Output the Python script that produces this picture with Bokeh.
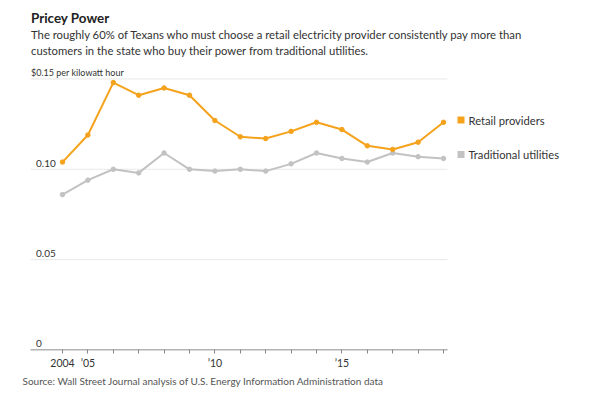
from bokeh.plotting import figure
from bokeh.models import Range1d, FixedTicker, Title, ColumnDataSource
from bokeh.core.properties import value
from bokeh.embed import file_html
from bokeh.resources import INLINE

# ---- data ----
years = list(range(2004, 2020))
retail = [0.104, 0.119, 0.148, 0.141, 0.145, 0.141, 0.127, 0.118, 0.117,
          0.121, 0.126, 0.122, 0.113, 0.111, 0.115, 0.126]
traditional = [0.086, 0.094, 0.100, 0.098, 0.109, 0.100, 0.099, 0.100, 0.099,
               0.103, 0.109, 0.106, 0.104, 0.109, 0.107, 0.106]
y_ticks = [0.0, 0.05, 0.10]
y_tick_labels = ["0", "0.05", "0.10"]
y_top_tick = 0.15
y_top_label = "$0.15 per kilowatt hour"
x_ticks = years
x_tick_labels = {2004: "2004", 2005: "\u201905", 2010: "\u201910", 2015: "\u201915"}
series_names = ["Retail providers", "Traditional utilities"]
title = "Pricey Power"
subtitle = ["The roughly 60% of Texans who must choose a retail electricity provider consistently pay more than",
            "customers in the state who buy their power from traditional utilities."]
source_note = "Source: Wall Street Journal analysis of U.S. Energy Information Administration data"

# ---- style / layout ----
FONT = "Lato"
ORANGE = "#f5a21c"
GRAY = "#c2c2c2"
GRID = "#e8e8e8"
TXT = "#333333"

W, H = 600, 397
FRAME_H = 350
PX_YEAR = 25.4          # pixels per year
PX_UNIT = 1806.7        # pixels per dollar
X0_PX = 62              # pixel of first year
x_start = years[0] - X0_PX / PX_YEAR
x_end = x_start + W / PX_YEAR
y_start = -0.0003
y_end = y_start + FRAME_H / PX_UNIT


def x_at(px):
    return x_start + px / PX_YEAR


def y_at(py):
    return y_start + (FRAME_H - py) / PX_UNIT


p = figure(width=W, height=H, output_backend="svg", toolbar_location=None,
           x_range=Range1d(x_start, x_end), y_range=Range1d(y_start, y_end),
           min_border_left=0, min_border_right=0, min_border_top=0,
           min_border_bottom=H - FRAME_H)
p.outline_line_color = None
p.background_fill_color = "white"
p.border_fill_color = "white"
p.xgrid.visible = False
p.ygrid.visible = False
p.yaxis.visible = False

x_left = x_at(30)
x_right = x_at(447)

# gridlines
grid_vals = y_ticks[1:] + [y_top_tick]
p.segment(x0=[x_left] * len(grid_vals), x1=[x_right] * len(grid_vals), y0=grid_vals,
          y1=grid_vals, line_color=GRID, line_width=1)
# baseline
p.segment(x0=[x_left], x1=[x_right], y0=[0], y1=[0], line_color="#9a9a9a", line_width=1.5)

# y labels
p.text(x=[x_at(35.5)] * 3, y=y_ticks, text=y_tick_labels, text_font=value(FONT),
       text_font_size="10px", text_color=TXT, text_baseline="middle", y_offset=-6)
p.text(x=[x_at(30.5)], y=[y_top_tick], text=[y_top_label], text_font=value(FONT),
       text_font_size="9px", text_color=TXT, text_baseline="middle", y_offset=-6.5)

# series
src = ColumnDataSource(dict(x=years, r=retail, t=traditional))
p.line("x", "t", source=src, line_color=GRAY, line_width=2)
p.scatter("x", "t", source=src, size=4.5, fill_color=GRAY, line_color=GRAY)
p.line("x", "r", source=src, line_color=ORANGE, line_width=2)
p.scatter("x", "r", source=src, size=4.5, fill_color=ORANGE, line_color=ORANGE)

# legend
leg_y = [y_at(119.5), y_at(154)]
p.scatter(x=[x_at(460.5)] * 2, y=leg_y, marker="square", size=7,
          fill_color=[ORANGE, GRAY], line_color=None)
p.text(x=[x_at(468)] * 2, y=leg_y, text=series_names, text_font=value(FONT),
       text_font_size="11.2px", text_color=TXT, text_baseline="middle")

# headline texts
p.text(x=[x_at(30.5)], y=[y_at(17.5)], text=[title], text_font=value(FONT),
       text_font_size="13.4px", text_font_style="bold", text_color="#222222",
       text_baseline="middle")
p.text(x=[x_at(30.5)] * 2, y=[y_at(33.5), y_at(49.5)], text=subtitle, text_font=value(FONT),
       text_font_size="11.3px", text_color=TXT, text_baseline="middle")

# x axis
ax = p.xaxis[0]
ax.ticker = FixedTicker(ticks=x_ticks)
ax.major_label_overrides = {y: x_tick_labels.get(y, "") for y in x_ticks}
ax.axis_line_color = None
ax.major_tick_line_color = "#888888"
ax.major_tick_in = 1
ax.major_tick_out = 3
ax.minor_tick_line_color = None
ax.major_label_standoff = 3
ax.major_label_text_font = FONT
ax.major_label_text_font_size = "10.5px"
ax.major_label_text_color = TXT

# source note
p.add_layout(Title(text=source_note, align="left", offset=22, text_font=FONT,
                   text_font_size="10px", text_font_style="normal",
                   text_color="#555555", standoff=2), "below")

open("out.html", "w").write(file_html(p, INLINE))
